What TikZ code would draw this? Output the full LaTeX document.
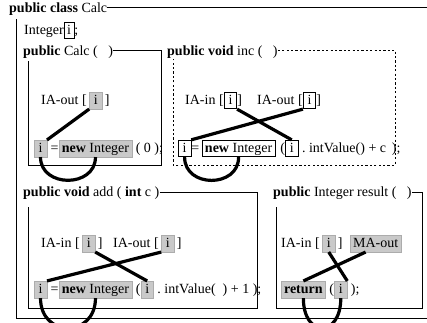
\documentclass[tikz,border=0pt]{standalone}
\usepackage{fontspec}
\setmainfont{Liberation Serif}
\begin{document}
\begin{tikzpicture}[x=1pt,y=-1pt,
  every node/.style={inner sep=0pt, anchor=base west, font=\fontsize{14}{16}\selectfont},
  bx/.style={draw, line width=0.7pt, inner xsep=2.8pt, inner ysep=1.8pt, text height=10pt, text depth=3pt},
  sh/.style={fill=gray!42, draw=gray!65, line width=0.5pt, inner xsep=2.8pt, inner ysep=1.8pt, text height=10pt, text depth=3pt},
  ibox/.style={minimum width=12.5pt, align=center},
  frame/.style={line width=0.8pt},
  dframe/.style={line width=0.8pt, dash pattern=on 2.2pt off 2.2pt},
  link/.style={line width=3.2pt},
]
\useasboundingbox (0,0) rectangle (427,322);

% outer class frame
\node (title) at (9,12) {\textbf{public class} Calc};
\coordinate (otr) at (427,7);
\coordinate (otl) at (16,19);
\coordinate (obl) at (16,318);
\coordinate (obr) at (427,318);
\draw[frame] (title.east |- otr) -- (otr);
\draw[frame] (otl) -- (obl) -- (obr);

\node (int) at (24,34) {Integer};
\node[bx] (inti) at (int.base east) {i};
\node (intsc) at (inti.base east) {;};

% constructor Calc
\node (h1) at (23,55) {\textbf{public} Calc (\ \ \ )};
\coordinate (b1tl) at (28,61);
\coordinate (b1br) at (161,165);
\draw[frame] (h1.east |- 0,50) -| (b1br) -| (b1tl);
\node (c1a) at (41,104) {IA-out [\,};
\node[sh,ibox] (c1ai) at (c1a.base east) {i};
\node (c1ae) at (c1ai.base east) {\,]};
\node[sh,ibox] (c1s) at (34,152) {i};
\node (c1eq) at (c1s.base east) {\ =\ };
\node[sh] (c1n) at (c1eq.base east) {\textbf{new} Integer};
\node (c1r) at (c1n.base east) {\ (\ 0\ );};
\draw[link] (c1ai.south west) -- (c1s.north east);
\draw[link] (c1s.south) .. controls +(0,31) and +(0,31) .. (c1n.south);

% inc
\node (h2) at (167,55) {\textbf{public void} inc (\ \ \ )};
\coordinate (b2tl) at (173,59);
\coordinate (b2br) at (395,165);
\draw[dframe] (h2.east |- 0,50) -| (b2br) -| (b2tl);
\node (d1) at (185,104) {IA-in [};
\node[bx,ibox] (d1i) at (d1.base east) {i};
\node (d1e) at (d1i.base east) {]};
\node (d2) at (257,104) {IA-out [};
\node[bx,ibox] (d2i) at (d2.base east) {i};
\node (d2e) at (d2i.base east) {]};
\node[bx,ibox] (ds) at (178,152) {i};
\node (deq) at (ds.base east) {=\,};
\node[bx] (dn) at (deq.base east) {\textbf{new} Integer};
\node (dp) at (dn.base east) {\,\,(};
\node[bx,ibox] (di) at (dp.base east) {i};
\node (drest) at (di.base east) {\ .\ intValue()\ +\ c\ \,);};
\draw[link] (d1i.south east) -- (di.north);
\draw[link] (d2i.south west) -- (ds.north east);
\draw[link] (ds.south) .. controls +(0,31) and +(0,31) .. (dn.south);

% add
\node (h3) at (23,196) {\textbf{public void} add (\ \textbf{int} c\ )};
\coordinate (b3tl) at (28,207);
\coordinate (b3br) at (257,308);
\draw[frame] (h3.east |- 0,192) -| (b3br) -| (b3tl);
\node (e1) at (41,247) {IA-in [\,};
\node[sh,ibox] (e1i) at (e1.base east) {i};
\node (e1e) at (e1i.base east) {\,]};
\node (e2) at (113,247) {IA-out [\,};
\node[sh,ibox] (e2i) at (e2.base east) {i};
\node (e2e) at (e2i.base east) {\,]};
\node[sh,ibox] (es) at (34,293) {i};
\node (eeq) at (es.base east) {\ =\ };
\node[sh] (en) at (eeq.base east) {\textbf{new} Integer};
\node (ep) at (en.base east) {\ (};
\node[sh,ibox] (ei) at (ep.base east) {i};
\node (erest) at (ei.base east) {\ .\ intValue(\ \ )\ +\ 1\ );};
\draw[link] (e1i.south east) -- (ei.north);
\draw[link] (e2i.south west) -- (es.north east);
\draw[link] (es.south) .. controls +(0,40) and +(0,40) .. (en.south);

% result
\node (h4) at (273,196) {\textbf{public} Integer result (\ \ \ )};
\coordinate (b4tl) at (276,207);
\coordinate (b4br) at (422,308);
\draw[frame] (h4.east |- 0,192) -| (b4br) -| (b4tl);
\node (f1) at (281,247) {IA-in [\,};
\node[sh,ibox] (f1i) at (f1.base east) {i};
\node (f1e) at (f1i.base east) {\,]};
\node[sh] (fm) at (350,247) {MA-out};
\node[sh] (fr) at (281,293) {\textbf{return}};
\node (fp) at (fr.base east) {\ (};
\node[sh,ibox] (fi) at (fp.base east) {i};
\node (fe) at (fi.base east) {\ );};
\draw[link] (f1i.south) -- (fi.north east);
\draw[link] ([xshift=-10pt]fm.south) -- (fr.north);
\draw[link] (fr.south) .. controls +(0,40) and +(0,40) .. (fi.south);
\end{tikzpicture}
\end{document}
